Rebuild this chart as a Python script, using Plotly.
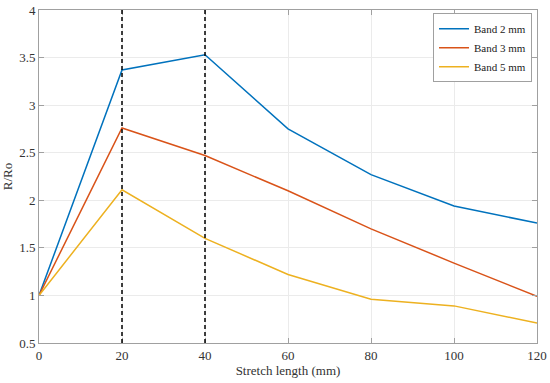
import plotly.graph_objects as go

x = [0, 20, 40, 60, 80, 100, 120]
band2 = [1.0, 3.37, 3.53, 2.75, 2.27, 1.94, 1.76]
band3 = [1.0, 2.76, 2.47, 2.10, 1.70, 1.34, 0.99]
band5 = [1.0, 2.11, 1.60, 1.22, 0.96, 0.89, 0.71]
names = ["Band 2 mm", "Band 3 mm", "Band 5 mm"]
colors = ["#0072BD", "#D95319", "#EDB120"]
vlines = [20, 40]

SERIF = "Liberation Serif"

fig = go.Figure()
for ys, n, c in zip([band2, band3, band5], names, colors):
    fig.add_trace(go.Scatter(x=x, y=ys, mode="lines", name=n,
                             line=dict(color=c, width=1.5)))
for v in vlines:
    fig.add_shape(type="line", x0=v, x1=v, y0=0, y1=1, xref="x", yref="paper",
                  line=dict(color="black", width=1.5, dash="4px,3px"))

axis_common = dict(showline=True, linecolor="#a0a0a0", linewidth=1, mirror="ticks",
                   ticks="inside", ticklen=5, tickcolor="#a0a0a0", automargin=False,
                   showgrid=True, gridcolor="#ebebeb", gridwidth=1, zeroline=False,
                   tickfont=dict(family=SERIF, size=13, color="#333333"))
fig.update_xaxes(range=[0, 120], dtick=20, title=dict(text="Stretch length (mm)", standoff=2,
                 font=dict(family=SERIF, size=13, color="#333333")), **axis_common)
fig.update_yaxes(range=[0.5, 4], dtick=0.5, title=dict(text="R/Ro", standoff=4,
                 font=dict(family=SERIF, size=13, color="#333333")), **axis_common)

fig.update_layout(width=550, height=383, margin=dict(l=39, r=13, t=10, b=40),
                  font=dict(family=SERIF),
                  plot_bgcolor="white", paper_bgcolor="white", showlegend=True,
                  legend=dict(x=0.99, y=0.99, xanchor="right", yanchor="top",
                              bgcolor="white", bordercolor="#a0a0a0", borderwidth=1,
                              font=dict(family=SERIF, size=11, color="#222222"),
                              itemwidth=30, tracegroupgap=0))
fig.write_html("out.html", config={"displayModeBar": False},
               post_script="document.body.style.margin='0px';document.body.style.overflow='hidden';")
